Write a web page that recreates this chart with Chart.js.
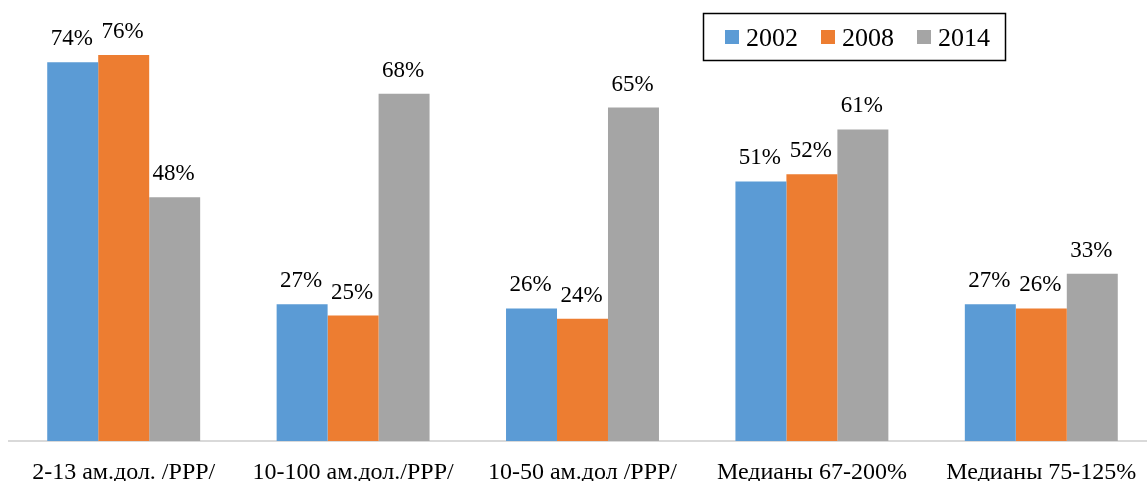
<!DOCTYPE html>
<html>
<head>
<meta charset="utf-8">
<script src="https://cdn.jsdelivr.net/npm/chart.js@4.4.1/dist/chart.umd.min.js"></script>
<style>
  html, body { margin: 0; padding: 0; background: #fff; overflow: hidden; }
  #wrap { width: 1157px; height: 505px; position: relative; }
</style>
</head>
<body>
<div id="wrap"><canvas id="c" width="1157" height="505"></canvas></div>
<script>
const categories = ['2-13 ам.дол. /PPP/', '10-100 ам.дол./PPP/', '10-50 ам.дол /PPP/', 'Медианы 67-200%', 'Медианы 75-125%'];
const seriesNames = ['2002', '2008', '2014'];
const v2002 = [74.3, 26.8, 26.0, 50.9, 26.8];
const v2008 = [75.7, 24.6, 24.0, 52.3, 26.0];
const v2014 = [47.8, 68.1, 65.4, 61.1, 32.8];
const colors = ['#5B9BD5', '#ED7D31', '#A5A5A5'];

const FONT = 'Liberation Serif, Times New Roman, serif';

const valueLabels = {
  id: 'valueLabels',
  afterDatasetsDraw(chart) {
    const ctx = chart.ctx;
    ctx.save();
    ctx.font = '23px ' + FONT;
    ctx.fillStyle = '#000';
    ctx.textAlign = 'center';
    ctx.textBaseline = 'alphabetic';
    chart.data.datasets.forEach((ds, i) => {
      const meta = chart.getDatasetMeta(i);
      meta.data.forEach((bar, j) => {
        ctx.fillText(Math.round(ds.data[j]) + '%', bar.x - 1, bar.y - 17);
      });
    });
    ctx.restore();
  }
};

const boxLegend = {
  id: 'boxLegend',
  afterDraw(chart) {
    const ctx = chart.ctx;
    ctx.save();
    ctx.fillStyle = '#fff';
    ctx.fillRect(703.5, 13.5, 302, 47);
    ctx.strokeStyle = '#000';
    ctx.lineWidth = 1.5;
    ctx.strokeRect(703.5, 13.5, 302, 47);
    ctx.font = '26px ' + FONT;
    ctx.textBaseline = 'alphabetic';
    ctx.textAlign = 'left';
    const xs = [725, 821, 917];
    chart.data.datasets.forEach((ds, i) => {
      ctx.fillStyle = ds.backgroundColor;
      ctx.fillRect(xs[i], 30, 14, 14);
      ctx.fillStyle = '#000';
      ctx.fillText(ds.label, xs[i] + 21, 46);
    });
    ctx.restore();
  }
};

new Chart(document.getElementById('c'), {
  type: 'bar',
  data: {
    labels: categories,
    datasets: [
      { label: seriesNames[0], data: v2002, backgroundColor: colors[0] },
      { label: seriesNames[1], data: v2008, backgroundColor: colors[1] },
      { label: seriesNames[2], data: v2014, backgroundColor: colors[2] }
    ]
  },
  options: {
    responsive: false,
    animation: false,
    devicePixelRatio: 1,
    layout: { padding: { left: 9, right: 1, top: 0, bottom: 0 } },
    datasets: { bar: { categoryPercentage: 0.6667, barPercentage: 1, borderWidth: 0 } },
    plugins: { legend: { display: false }, tooltip: { enabled: false } },
    scales: {
      x: {
        grid: { display: false, drawTicks: false },
        border: { display: true, color: '#D9D9D9', width: 2 },
        ticks: { color: '#000', font: { family: FONT, size: 24, lineHeight: 1 }, padding: 20, autoSkip: false, maxRotation: 0 }
      },
      y: { display: false, min: 0, max: 86.5 }
    }
  },
  plugins: [valueLabels, boxLegend]
});
</script>
</body>
</html>
